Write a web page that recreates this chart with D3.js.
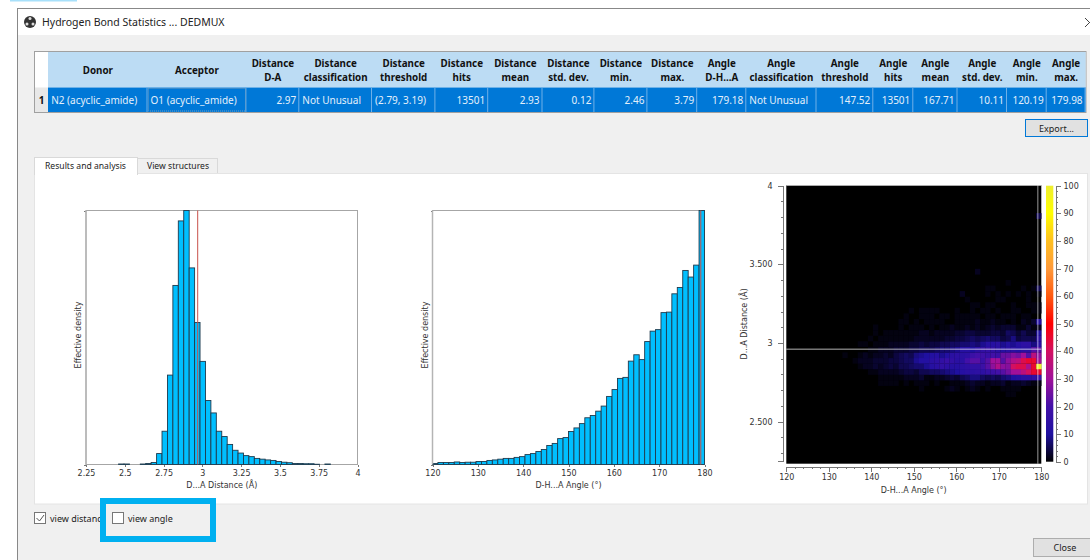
<!DOCTYPE html>
<html lang="en">
<head>
    <meta charset="UTF-8">
    <title>Hydrogen Bond Statistics</title>
    <script src="https://d3js.org/d3.v7.min.js"></script>
    <style>
        body { margin: 0; background: #fff; overflow: hidden; }
        svg { display: block; }
        text { font-family: "Noto Sans", sans-serif; }
        .plot text { font-family: "DejaVu Sans", sans-serif; font-size: 8px; fill: #333; }
        .axis path, .axis line { stroke: #777; shape-rendering: crispEdges; }
    </style>
</head>
<body>
    <script>
        // table contents
        const tableHeaders = [
            ["Donor"], ["Acceptor"], ["Distance", "D-A"], ["Distance", "classification"], ["Distance", "threshold"],
            ["Distance", "hits"], ["Distance", "mean"], ["Distance", "std. dev."], ["Distance", "min."], ["Distance", "max."],
            ["Angle", "D-H...A"], ["Angle", "classification"], ["Angle", "threshold"], ["Angle", "hits"], ["Angle", "mean"],
            ["Angle", "std. dev."], ["Angle", "min."], ["Angle", "max."]
        ];
        const tableRow = ["N2 (acyclic_amide)", "O1 (acyclic_amide)", "2.97", "Not Unusual", "(2.79, 3.19)", "13501", "2.93", "0.12",
            "2.46", "3.79", "179.18", "Not Unusual", "147.52", "13501", "167.71", "10.11", "120.19", "179.98"];
        const leftAligned = ["N2 (acyclic_amide)", "O1 (acyclic_amide)", "Not Unusual", "(2.79, 3.19)"];

        // histogram values (percent of the tallest bar)
        const distanceDensity = [0, 0, 0, 0, 0, 0, 0.2, 0.2, 0, 0, 0.2, 0.4, 0.8, 4.3, 13.1, 35.2, 70.5, 95.9, 100, 77.4,
            55.9, 40.6, 25.2, 20.3, 13.1, 11, 7.9, 5.6, 4.5, 3.5, 3.1, 2.4, 2.1, 1.8, 1.6, 1.2, 0.9, 0.7, 0.4, 0.4,
            0.3, 0.3, 0.1, 0, 0.2, 0, 0, 0, 0, 0];
        const angleDensity = [0.4, 0.8, 0.8, 0.8, 1, 0.8, 0.9, 0.9, 1.2, 1.2, 1.6, 1.8, 2.1, 2.4, 2.4, 2.8, 3.1, 3.9, 4.3, 5.1,
            5.9, 7.5, 8.3, 10.2, 10.6, 13, 14.4, 16.1, 18.4, 19.3, 21, 23, 26.8, 29.5, 33.9, 34.3, 40.7, 43.2, 41.3, 48.4,
            52.5, 53.1, 59.8, 60, 67.2, 69.7, 76.4, 73.8, 78.5, 100];
        const distanceTicks = [2.25, 2.5, 2.75, 3, 3.25, 3.5, 3.75, 4];
        const angleTicks = [120, 130, 140, 150, 160, 170, 180];
        const heatDistanceTicks = [2.5, 3, 3.5, 4];
        const heatDistanceLabels = ["2.500", "3", "3.500", "4"];
        const colorTicks = [0, 10, 20, 30, 40, 50, 60, 70, 80, 90, 100];
        const colorStops = ["#000000", "#1f10a0", "#4210a8", "#a0109a", "#d21062", "#ff0000", "#ff5a10", "#ff9a3a", "#ffc020", "#ffff00", "#eeee30"];

        const distanceHit = 2.97;
        const angleHit = 179.18;

        // heat map: rows of counts, first row is distance bin 12, first value in a row is angle bin 11
        const heatFirstRow = 12;
        const heatFirstCol = 11;
        const heatRows = [
            [0,0,0,0,0,0,0,0,0,0,0,0,0,0,0,0,0,0,0,0,0,0,0, 0,0,0,0,0,0,0,0,0,1,1,0,0,0,0,0],
            [0,0,0,0,0,0,0,0,0,0,0,0,0,0,0,1,0,0,0,0,1,2,1, 0,1,2,1,0,1,0,0,1,1,1,1,0,0,0,0],
            [0,0,0,0,0,0,0,1,1,1,1,0,1,0,1,1,1,0,1,0,0,1,1, 1,2,3,2,2,1,2,2,3,1,2,2,3,2,1,1],
            [0,0,0,0,0,0,0,1,1,1,1,1,2,2,2,3,1,1,2,2,3,4,3, 5,6,8,8,6,5,6,5,7,8,10,11,13,13,15,16],
            [0,0,0,0,0,1,1,2,2,2,2,3,4,4,3,5,5,6,6,7,8,9,10, 12,13,13,14,14,16,18,20,22,25,30,30,35,40,45,45],
            [0,0,0,1,2,2,3,2,3,4,3,5,5,6,7,7,9,12,13,15,14,12,12, 13,14,15,15,18,22,28,33,28,27,40,42,42,32,45,100],
            [0,0,1,2,2,2,3,3,3,4,4,5,6,6,9,11,11,13,14,15,17,15,13, 13,20,22,22,17,22,30,30,22,28,33,35,42,45,45,30],
            [1,0,0,1,2,1,2,2,3,2,4,5,6,5,8,9,10,11,12,9,11,13,14, 13,14,18,20,19,17,20,18,24,24,27,25,30,22,35,28],
            [0,0,0,0,0,1,1,2,2,2,3,3,3,4,4,5,5,5,6,7,7,8,9, 12,12,10,13,15,16,15,13,12,13,13,11,13,13,22,22],
            [0,0,0,1,1,0,1,1,1,2,2,2,2,3,3,4,3,4,4,5,5,6,6, 7,7,8,7,9,12,12,13,9,11,9,12,14,14,8,13],
            [0,0,0,0,0,1,0,1,1,1,1,1,1,1,2,2,2,2,2,2,3,3,4, 4,5,6,5,6,7,6,6,4,5,8,4,5,5,5,13],
            [0,0,0,0,0,0,1,0,1,1,1,1,1,1,1,2,2,1,2,2,2,2,3, 3,4,4,3,3,3,4,4,3,6,5,3,5,3,3,10],
            [0,0,0,0,0,0,1,0,0,0,0,1,0,1,1,1,0,1,0,1,1,2,1, 1,2,1,2,1,2,3,2,3,3,3,1,1,3,1,2],
            [0,0,0,0,0,0,0,0,0,0,0,1,1,0,1,0,1,1,1,1,0,0,1, 1,1,1,2,1,1,2,1,1,0,1,0,2,1,3,11],
            [0,0,0,0,0,0,0,0,0,0,0,0,1,0,0,1,1,1,0,1,1,0,1, 1,1,1,1,0,1,1,0,1,1,1,0,1,1,0,0],
            [0,0,0,0,0,0,0,0,0,0,0,0,0,1,0,1,1,1,1,0,0,0,1, 0,0,1,0,1,1,0,1,0,0,1,1,0,0,1,1],
            [0,0,0,0,0,0,0,0,0,0,0,0,0,0,0,0,0,0,0,0,0,0,0, 0,0,1,1,0,1,1,0,0,0,1,0,0,1,1,1],
            [0,0,0,0,0,0,0,0,0,0,0,0,0,0,0,0,0,0,0,0,0,0,0, 0,1,0,0,0,0,0,1,1,0,0,0,0,1,0,0],
            [0,0,0,0,0,0,0,0,0,0,0,0,0,0,0,0,0,0,0,0,0,0,0, 2,0,0,0,0,1,0,1,0,1,0,1,0,1,0,1],
            [0,0,0,0,0,0,0,0,0,0,0,0,0,0,0,0,0,0,0,0,0,0,0, 0,0,0,0,0,1,1,0,0,0,0,0,1,0,1,5],
            [0,0,0,0,0,0,0,0,0,0,0,0,0,0,0,0,0,0,0,0,0,0,0, 0,0,0,0,0,0,0,0,0,1,0,0,0,0,0,0],
            [],
            [0,0,0,0,0,0,0,0,0,0,0,0,0,0,0,0,0,0,0,0,0,0,0, 0,0,0,2,0,0,0,0,0,0,0,0,0,0,0,0],
            [], [], [], [], [], [], [], [], [],
            [0,0,0,0,0,0,0,0,0,0,0,0,0,0,0,0,0,0,0,0,0,0,0, 0,0,0,0,0,0,0,0,0,0,0,0,0,0,0,5]
        ];

        const svg = d3.select("body").append("svg")
            .attr("width", 1090)
            .attr("height", 560);

        // window frame
        svg.append("rect").attr("x", 10).attr("y", 0).attr("width", 67).attr("height", 1.5).attr("fill", "#a8e0fa");
        svg.append("rect").attr("x", 17.5).attr("y", 8.5).attr("width", 1080).attr("height", 560)
            .attr("fill", "#f0f0f0").attr("stroke", "#888");
        svg.append("rect").attr("x", 18).attr("y", 9).attr("width", 1072).attr("height", 26).attr("fill", "#fff");
        svg.append("circle").attr("cx", 30).attr("cy", 22).attr("r", 6).attr("fill", "#333");
        [[30, 18.5], [27, 24], [33, 24]].forEach(p => {
            svg.append("circle").attr("cx", p[0]).attr("cy", p[1]).attr("r", 1.5).attr("fill", "#ddd");
        });
        svg.append("text").attr("x", 42).attr("y", 26).attr("font-size", 10.5).attr("fill", "#222")
            .text("Hydrogen Bond Statistics ... DEDMUX");
        svg.append("path").attr("d", "M1085 18 L1090 23 M1085 27 L1090 22").attr("stroke", "#444").attr("fill", "none");

        // results table
        const columnEdges = [48.2, 147.5, 246.4, 299.3, 372, 435.4, 488.2, 542.5, 594.4, 647.4, 697.2, 746.3, 816.5, 873.3, 913.3, 957.5, 1007, 1046.7, 1085.6];
        const table = svg.append("g");
        table.append("rect").attr("x", 34.5).attr("y", 51.5).attr("width", 1051.5).attr("height", 61)
            .attr("fill", "#fff").attr("stroke", "#a0a0a0");
        table.append("rect").attr("x", 48).attr("y", 52).attr("width", 1037.6).attr("height", 35.5).attr("fill", "#bcdcf4");
        table.append("rect").attr("x", 35).attr("y", 87.5).attr("width", 13).attr("height", 24.5).attr("fill", "#e8e8e8");
        table.append("rect").attr("x", 48).attr("y", 87.5).attr("width", 1037.6).attr("height", 24.5).attr("fill", "#0078d7");
        table.append("text").attr("x", 41.5).attr("y", 104).attr("text-anchor", "middle")
            .attr("font-size", 10).attr("font-weight", 700).attr("fill", "#111").text("1");

        const cols = table.selectAll("g.col")
            .data(tableHeaders)
            .enter()
            .append("g")
            .attr("class", "col");

        cols.append("line")
            .attr("x1", (d, i) => columnEdges[i + 1] - 0.5)
            .attr("x2", (d, i) => columnEdges[i + 1] - 0.5)
            .attr("y1", 87.5).attr("y2", 112)
            .attr("stroke", "#6fb0e8");

        cols.each(function(lines, i) {
            const cx = (columnEdges[i] + columnEdges[i + 1]) / 2;
            const ys = lines.length === 1 ? [74] : [67, 81];
            d3.select(this).selectAll("text.head")
                .data(lines)
                .enter()
                .append("text")
                .attr("class", "head")
                .attr("x", cx)
                .attr("y", (d, k) => ys[k])
                .attr("text-anchor", "middle")
                .attr("font-size", 9.8)
                .attr("font-weight", 700)
                .attr("fill", "#111")
                .text(d => d);
            const isLeft = leftAligned.includes(tableRow[i]);
            d3.select(this).append("text")
                .attr("x", isLeft ? columnEdges[i] + 3 : columnEdges[i + 1] - 3)
                .attr("y", 104)
                .attr("text-anchor", isLeft ? "start" : "end")
                .attr("font-size", 10)
                .attr("fill", "#e4f0fb")
                .text(tableRow[i]);
        });
        table.append("rect").attr("x", 148.5).attr("y", 88.5).attr("width", 97).attr("height", 22.5)
            .attr("fill", "none").attr("stroke", "#6f9cc0").attr("stroke-dasharray", "1,1");

        // export button
        svg.append("rect").attr("x", 1025.5).attr("y", 119.5).attr("width", 62).attr("height", 17)
            .attr("fill", "#e1e1e1").attr("stroke", "#0078d7");
        svg.append("text").attr("x", 1056.5).attr("y", 131.5).attr("text-anchor", "middle")
            .attr("font-size", 9).attr("fill", "#222").text("Export...");

        // tabs and panel
        svg.append("rect").attr("x", 137.5).attr("y", 158.5).attr("width", 80).attr("height", 16)
            .attr("fill", "#f0f0f0").attr("stroke", "#d9d9d9");
        svg.append("rect").attr("x", 34.5).attr("y", 173.5).attr("width", 1053).attr("height", 330.5)
            .attr("fill", "#fff").attr("stroke", "#e4e4e4");
        svg.append("rect").attr("x", 34.5).attr("y", 157.5).attr("width", 103).attr("height", 17)
            .attr("fill", "#fff").attr("stroke", "#d9d9d9");
        svg.append("rect").attr("x", 35).attr("y", 172).attr("width", 102).attr("height", 3).attr("fill", "#fff");
        svg.append("text").attr("x", 85.5).attr("y", 168.5).attr("text-anchor", "middle")
            .attr("font-size", 8.6).attr("fill", "#222").text("Results and analysis");
        svg.append("text").attr("x", 178).attr("y", 169).attr("text-anchor", "middle")
            .attr("font-size", 8.6).attr("fill", "#222").text("View structures");

        const plots = svg.append("g").attr("class", "plot");

        // one histogram with its frame, ticks and reference line
        function drawHistogram(cfg) {
            const g = plots.append("g");
            const x = d3.scaleLinear().domain(cfg.domain).range([cfg.left, cfg.right]);
            const y = d3.scaleLinear().domain([0, 100]).range([464.5, 210.5]);
            const binWidth = (cfg.domain[1] - cfg.domain[0]) / cfg.values.length;

            g.append("rect")
                .attr("x", cfg.left).attr("y", 210.5)
                .attr("width", cfg.right - cfg.left).attr("height", 254)
                .attr("fill", "#fff").attr("stroke", "#a6a6a6");

            g.selectAll("rect.bar")
                .data(cfg.values.map((v, i) => ({ v, i })).filter(d => d.v > 0))
                .enter()
                .append("rect")
                .attr("class", "bar")
                .attr("x", d => x(cfg.domain[0] + d.i * binWidth))
                .attr("y", d => y(d.v))
                .attr("width", x(cfg.domain[0] + binWidth) - x(cfg.domain[0]))
                .attr("height", d => y(0) - y(d.v))
                .attr("fill", "#00bfff")
                .attr("stroke", "#1f3a4d")
                .attr("stroke-width", 0.9);

            g.append("line")
                .attr("x1", x(cfg.hit)).attr("x2", x(cfg.hit))
                .attr("y1", 210.5).attr("y2", 464.5)
                .attr("stroke", "#c8504a");

            g.append("g").attr("class", "axis")
                .attr("transform", "translate(0,464.5)")
                .call(d3.axisBottom(x).tickValues(cfg.ticks).tickSize(2).tickPadding(4).tickFormat(d3.format("")))
                .call(a => a.select(".domain").remove());
            g.append("g").attr("class", "axis")
                .attr("transform", `translate(${cfg.left},0)`)
                .call(d3.axisLeft(y).tickValues([0, 100]).tickSize(2).tickFormat(""))
                .call(a => a.select(".domain").remove());
            g.append("line")
                .attr("x1", cfg.left).attr("x2", cfg.left)
                .attr("y1", 210.5).attr("y2", 464.5)
                .attr("stroke", "#b4b4b4").attr("stroke-width", 1.5);

            g.append("text").attr("x", (cfg.left + cfg.right) / 2).attr("y", 488)
                .attr("text-anchor", "middle").text(cfg.title);
            g.append("text")
                .attr("transform", `translate(${cfg.left - 5},335) rotate(-90)`)
                .attr("text-anchor", "middle").text("Effective density");
        }

        drawHistogram({ values: distanceDensity, domain: [2.25, 4], ticks: distanceTicks, hit: distanceHit,
            left: 86, right: 357.5, title: "D...A Distance (Å)" });
        drawHistogram({ values: angleDensity, domain: [120, 180], ticks: angleTicks, hit: angleHit,
            left: 432.5, right: 704.5, title: "D-H...A Angle (°)" });

        // heat map
        const heat = plots.append("g");
        const heatColor = d3.scaleLinear().domain(colorTicks).range(colorStops);
        const colBand = d3.scaleBand().domain(d3.range(50)).range([786.3, 1041.3]);
        const rowBand = d3.scaleBand().domain(d3.range(50)).range([463.7, 185.3]);
        const heatX = d3.scaleLinear().domain([120, 180]).range([786.3, 1041.3]);
        const heatY = d3.scaleLinear().domain([2.25, 4]).range([461, 185.7]);
        const imageY = d3.scaleLinear().domain([2.25, 4]).range([463.7, 185.3]);

        heat.append("rect").attr("x", 786.3).attr("y", 185.3).attr("width", 255).attr("height", 278.4).attr("fill", "#000");

        const cells = heatRows.flatMap((row, r) => row.map((v, c) => ({
            row: r + heatFirstRow, col: c + heatFirstCol, v
        }))).filter(d => d.v > 0);

        heat.selectAll("rect.cell")
            .data(cells)
            .enter()
            .append("rect")
            .attr("class", "cell")
            .attr("x", d => colBand(d.col))
            .attr("y", d => rowBand(d.row))
            .attr("width", colBand.bandwidth() + 0.2)
            .attr("height", rowBand.bandwidth() + 0.2)
            .attr("fill", d => heatColor(d.v));

        heat.append("line").attr("x1", 786.3).attr("x2", 1041.3).attr("y1", 185.5).attr("y2", 185.5).attr("stroke", "#aaa");
        heat.append("line").attr("x1", 786.3).attr("x2", 1041.3).attr("y1", imageY(distanceHit)).attr("y2", imageY(distanceHit))
            .attr("stroke", "#fff").attr("stroke-opacity", 0.7);
        heat.append("line").attr("x1", heatX(angleHit)).attr("x2", heatX(angleHit)).attr("y1", 185.3).attr("y2", 463.7)
            .attr("stroke", "#fff").attr("stroke-opacity", 0.5).attr("stroke-width", 1.2);

        const labelOf = d => heatDistanceLabels[heatDistanceTicks.indexOf(d)];
        heat.append("g").attr("class", "axis")
            .attr("transform", "translate(0,467)")
            .call(d3.axisBottom(heatX).tickValues(d3.range(120, 181, 2)).tickSize(2).tickFormat(""));
        heat.append("g").attr("class", "axis")
            .attr("transform", "translate(0,467)")
            .call(d3.axisBottom(heatX).tickValues(angleTicks).tickSize(5).tickPadding(2).tickFormat(d3.format("")));
        heat.append("g").attr("class", "axis")
            .attr("transform", "translate(782.5,0)")
            .call(d3.axisLeft(heatY).tickValues(d3.range(2.3, 4.01, 0.1)).tickSize(2).tickFormat(""));
        heat.append("g").attr("class", "axis")
            .attr("transform", "translate(782.5,0)")
            .call(d3.axisLeft(heatY).tickValues(heatDistanceTicks).tickSize(5).tickPadding(5).tickFormat(labelOf));
        heat.append("text").attr("x", 913.7).attr("y", 493).attr("text-anchor", "middle").text("D-H...A Angle (°)");
        heat.append("text").attr("transform", "translate(747,324) rotate(-90)").attr("text-anchor", "middle").text("D...A Distance (Å)");

        // colour bar
        const gradient = svg.append("defs").append("linearGradient")
            .attr("id", "bar-gradient").attr("x1", 0).attr("x2", 0).attr("y1", 1).attr("y2", 0);
        gradient.selectAll("stop")
            .data(colorTicks)
            .enter()
            .append("stop")
            .attr("offset", d => d + "%")
            .attr("stop-color", d => heatColor(d));
        const colorY = d3.scaleLinear().domain([0, 100]).range([461.7, 185.7]);
        heat.append("rect").attr("x", 1046).attr("y", 185.7).attr("width", 7.3).attr("height", 276)
            .attr("fill", "url(#bar-gradient)");
        heat.append("g").attr("class", "axis")
            .attr("transform", "translate(1055.5,0)")
            .call(d3.axisRight(colorY).tickValues(d3.range(0, 101, 2)).tickSize(2).tickFormat(""));
        heat.append("g").attr("class", "axis")
            .attr("transform", "translate(1055.5,0)")
            .call(d3.axisRight(colorY).tickValues(colorTicks).tickSize(5).tickPadding(3).tickFormat(d3.format("")));

        // check boxes, the blue box is a callout drawn over the first label
        svg.append("rect").attr("x", 34.5).attr("y", 512.5).attr("width", 11).attr("height", 11)
            .attr("fill", "#fff").attr("stroke", "#777");
        svg.append("path").attr("d", "M36.5 518 L39.5 521 L44 515").attr("fill", "none").attr("stroke", "#555");
        svg.append("text").attr("x", 50).attr("y", 521.5).attr("font-size", 9).attr("fill", "#222").text("view distance");
        svg.append("rect").attr("x", 103).attr("y", 501).attr("width", 110).attr("height", 38)
            .attr("fill", "#f0f0f0").attr("stroke", "#00b0f0").attr("stroke-width", 6);
        svg.append("rect").attr("x", 112.5).attr("y", 512.5).attr("width", 11).attr("height", 11)
            .attr("fill", "#fff").attr("stroke", "#777");
        svg.append("text").attr("x", 128).attr("y", 521.5).attr("font-size", 9).attr("fill", "#222").text("view angle");

        // close button
        svg.append("rect").attr("x", 1033.5).attr("y", 538.5).attr("width", 60).attr("height", 18)
            .attr("fill", "#e1e1e1").attr("stroke", "#adadad");
        svg.append("text").attr("x", 1065).attr("y", 551).attr("text-anchor", "middle")
            .attr("font-size", 9).attr("fill", "#222").text("Close");
    </script>
</body>
</html>
